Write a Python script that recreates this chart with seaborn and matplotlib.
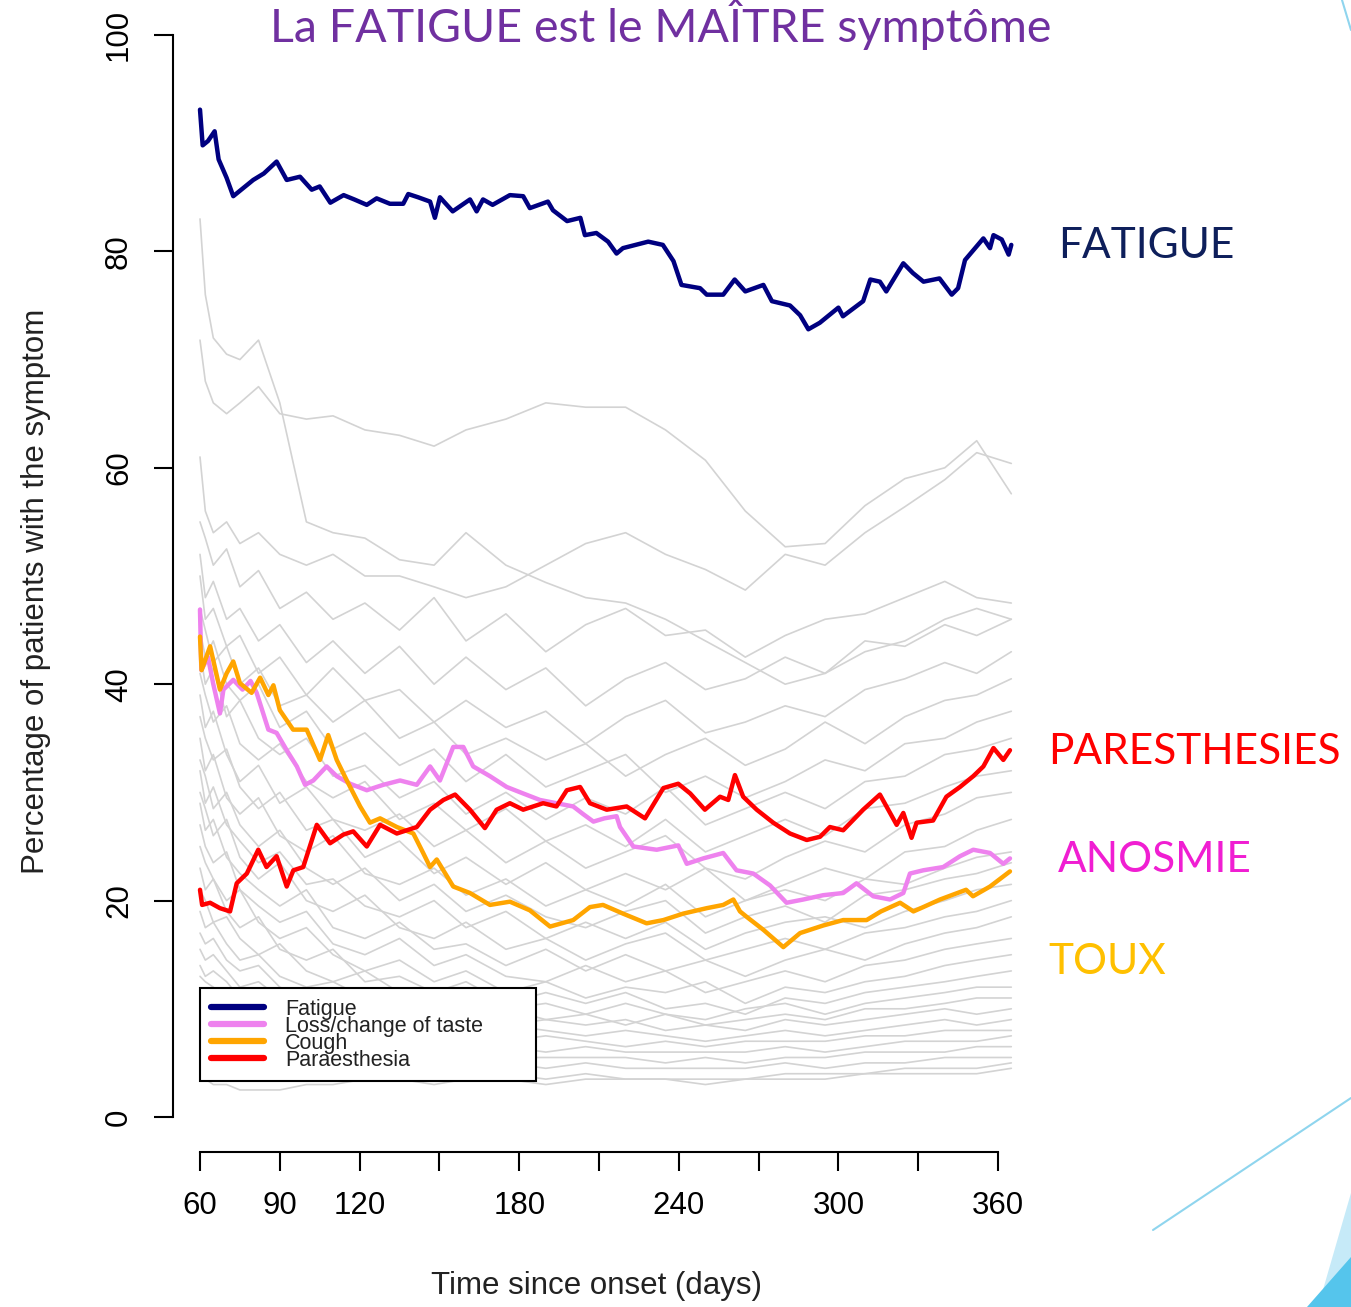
import matplotlib.pyplot as plt
import matplotlib.lines as mlines
import matplotlib.patches as mpatches
import pandas as pd
import seaborn as sns

W, H = 1351, 1307

# highlighted symptoms (days since onset, % of patients)
fatigue_days = [60, 61, 63, 65.5, 67, 70, 72.5, 76, 80, 84,
                88.8, 92.6, 97.6, 102, 105, 109, 114, 118, 122.7, 126.4,
                131.4, 136.4, 138.3, 142, 146.5, 148.3, 150.2, 155, 161.5, 164,
                166.4, 170, 176.5, 181.5, 184, 190.8, 192.7, 198, 203, 204.7,
                209, 213.4, 216.6, 219, 228.5, 234, 238, 241, 248, 250.5,
                256.7, 261, 265, 271.8, 275, 281.8, 285.6, 288.7, 293, 300,
                301.7, 309.3, 312, 315.6, 318, 324.4, 328, 332, 338, 342.6,
                345, 347.6, 354.5, 357, 358.3, 361.4, 364, 365]
fatigue_pct = [93.1, 89.8, 90.2, 91.1, 88.5, 86.8, 85.1, 85.8, 86.6, 87.2,
               88.3, 86.6, 86.9, 85.7, 86.0, 84.5, 85.2, 84.8, 84.3, 84.9,
               84.4, 84.4, 85.3, 85.0, 84.6, 83.1, 85.0, 83.7, 84.8, 83.7,
               84.8, 84.3, 85.2, 85.1, 84.0, 84.6, 83.8, 82.8, 83.1, 81.5,
               81.7, 80.9, 79.8, 80.3, 80.9, 80.6, 79.1, 76.9, 76.6, 76.0,
               76.0, 77.4, 76.3, 76.9, 75.4, 75.0, 74.1, 72.8, 73.4, 74.8,
               74.0, 75.4, 77.4, 77.2, 76.3, 78.9, 78.0, 77.2, 77.5, 76.0,
               76.6, 79.2, 81.2, 80.3, 81.5, 81.1, 79.7, 80.6]

taste_days = [60, 60.5, 63, 65, 67.5, 68.8, 72.5, 76, 79, 81.3,
              85.7, 88.8, 92.6, 96.4, 99.5, 102.6, 107.6, 111.4, 116.4, 122.7,
              128.9, 135.2, 141.5, 146.5, 150.2, 155.2, 159, 162.7, 169, 175.3,
              181.5, 187.8, 194, 200.3, 204, 207.9, 212, 216.6, 217.9, 222.9,
              231.7, 239.8, 243, 249.2, 256.7, 261.7, 268, 274.3, 280.5, 286.8,
              294.3, 301.8, 306.8, 313.1, 319.4, 324.4, 326.9, 331.9, 339.4, 345.7,
              350.7, 357, 362, 364.5]
taste_pct = [46.9, 41.3, 42.5, 40.0, 37.3, 39.5, 40.4, 39.5, 40.3, 39.2,
             35.8, 35.5, 33.9, 32.4, 30.7, 31.1, 32.4, 31.5, 30.8, 30.2,
             30.7, 31.1, 30.7, 32.4, 31.1, 34.2, 34.2, 32.4, 31.5, 30.5,
             29.9, 29.3, 29.0, 28.7, 28.0, 27.3, 27.6, 27.8, 26.8, 25.0,
             24.7, 25.1, 23.4, 23.9, 24.4, 22.8, 22.5, 21.4, 19.8, 20.1,
             20.5, 20.7, 21.6, 20.4, 20.1, 20.7, 22.5, 22.8, 23.1, 24.1,
             24.7, 24.4, 23.4, 23.9]

cough_days = [60, 60.6, 63.8, 67.5, 70, 72.5, 75, 79.4, 82.6, 85.7,
              87.6, 90, 95, 100.1, 105.1, 108.2, 111.4, 115.2, 120.2, 123.9,
              127.7, 134, 140.2, 143.9, 146.5, 149, 155.2, 161.5, 169, 176.5,
              184, 191.6, 200.3, 206.6, 211.5, 219, 227.9, 234.2, 241.7, 250.5,
              256.7, 260.5, 263, 265.5, 271.8, 279.3, 285.6, 294.3, 301.8, 310.6,
              316, 323.2, 328.2, 331.9, 338.2, 348, 350.6, 357, 364.5]
cough_pct = [44.4, 41.3, 43.5, 39.5, 41.0, 42.1, 40.1, 39.2, 40.6, 39.0,
             39.9, 37.6, 35.8, 35.8, 33.0, 35.3, 33.0, 31.1, 28.7, 27.2,
             27.6, 26.8, 26.2, 24.4, 23.1, 23.8, 21.3, 20.7, 19.6, 19.9,
             19.1, 17.6, 18.2, 19.4, 19.6, 18.8, 17.9, 18.2, 18.8, 19.3,
             19.6, 20.1, 19.0, 18.5, 17.3, 15.7, 17.0, 17.7, 18.2, 18.2,
             19.0, 19.8, 19.0, 19.4, 20.1, 21.0, 20.4, 21.3, 22.7]

paraes_days = [60, 60.8, 63.8, 67.5, 71.3, 73.8, 77.6, 81.9, 85, 88.8,
               92.6, 95.1, 98.8, 103.9, 108.9, 113.9, 117.6, 122.7, 127.7, 134,
               141.5, 146.5, 151.5, 155.9, 161.5, 167.1, 171.5, 176.5, 181.5, 189,
               194, 197.9, 202.9, 206.6, 212.9, 220.4, 227.3, 234.2, 239.8, 244.3,
               249.8, 255.5, 258.6, 261.1, 264.2, 269.3, 275.5, 281.8, 288.1, 293.1,
               296.8, 301.8, 309.3, 315.6, 321.9, 324.4, 327.5, 329.4, 335.6, 340.6,
               345.7, 350.7, 354.5, 358.3, 362, 364.5]
paraes_pct = [21.0, 19.6, 19.8, 19.3, 19.0, 21.6, 22.5, 24.7, 23.1, 24.1,
              21.3, 22.8, 23.1, 27.0, 25.3, 26.1, 26.4, 25.0, 27.0, 26.2,
              26.8, 28.4, 29.3, 29.8, 28.4, 26.7, 28.4, 29.0, 28.4, 29.0,
              28.7, 30.2, 30.5, 29.0, 28.4, 28.7, 27.6, 30.4, 30.8, 29.9,
              28.4, 29.6, 29.3, 31.6, 29.6, 28.4, 27.2, 26.2, 25.6, 25.9,
              26.8, 26.5, 28.4, 29.8, 27.0, 28.1, 25.8, 27.2, 27.4, 29.6,
              30.5, 31.5, 32.4, 34.1, 33.0, 33.9]

# the other symptoms, drawn in light grey
gray_days = [60, 62, 65, 70, 75, 82, 90, 100, 110, 122, 135, 148, 160, 175,
             190, 205, 220, 235, 250, 265, 280, 295, 310, 325, 340, 352, 365]
gray_pct = [
    [83, 76, 72, 70.5, 70, 71.8, 66, 55, 54, 53.5, 51.5, 51, 54, 51, 49.4, 48, 47.5, 46, 44, 42, 40, 41, 43, 44, 46, 47, 46],
    [71.8, 68, 66, 65, 66, 67.5, 65, 64.5, 64.8, 63.5, 63, 62, 63.5, 64.5, 66, 65.6, 65.6, 63.5, 60.7, 56, 52.7, 53, 56.5, 59, 60, 62.5, 57.6],
    [61, 56, 54, 55, 53, 54, 52, 51, 52, 50, 50, 49, 48, 49, 51, 53, 54, 52, 50.6, 48.7, 52, 51, 54, 56.4, 58.9, 61.4, 60.4],
    [55, 53.5, 51, 52.5, 49, 50.5, 47, 48.5, 46, 47.5, 45, 48, 44, 46.5, 43, 45.5, 47, 44.5, 45, 42.5, 44.5, 46, 46.5, 48, 49.5, 48, 47.5],
    [52, 48, 49.5, 46, 47, 44, 45.5, 42, 44, 41, 43.5, 40, 42.5, 39.5, 41.5, 38, 40.5, 42, 39.5, 40.5, 42.5, 41, 44, 43.5, 45.5, 44.5, 46],
    [50, 46, 47, 43.5, 44.5, 41, 42.5, 39, 41.5, 38.5, 39.5, 36.5, 38.5, 36, 37.5, 34.5, 37, 38.5, 35.5, 36.5, 38, 37, 39.5, 40.5, 42, 41, 43],
    [47, 45, 42, 43.5, 40, 41.5, 38, 39, 36.5, 38.5, 35, 36.5, 33.5, 35, 33, 34.5, 31.5, 33.5, 35, 32.5, 34, 36.5, 34.5, 37, 38.5, 39, 40.5],
    [45, 42.5, 44, 40, 38.5, 40, 36, 37.5, 34, 35.5, 32.5, 34, 31, 33.5, 30.5, 32, 33.5, 30, 31.5, 29.5, 31, 33, 32, 34.5, 35, 36.5, 37.5],
    [43, 40, 41.5, 37, 38.5, 35, 33.5, 35, 31.5, 32.5, 29.5, 31, 28, 30, 27.5, 29.5, 28, 30.5, 27, 28.5, 30, 28.5, 31, 31.5, 33.5, 34, 35],
    [41, 39, 36.5, 38, 34.5, 33, 34.5, 31, 29.5, 31, 27.5, 29, 26.5, 28.5, 25.5, 27, 25, 27.5, 24.5, 26, 27.5, 26, 28.5, 29, 30.5, 31.5, 32],
    [39, 36, 37.5, 33.5, 31, 32.5, 29, 30.5, 27.5, 26.5, 28, 25, 26.5, 23.5, 25.5, 23, 24.5, 26, 23, 22, 24, 25.5, 24.5, 27, 28, 29.5, 30],
    [37, 35, 33, 34, 30.5, 28.5, 30, 26.5, 27.5, 24, 25.5, 22.5, 24, 21.5, 23.5, 21, 22.5, 21, 23, 20, 21.5, 23, 22, 24.5, 25, 26.5, 27.5],
    [35, 32, 33.5, 29.5, 28, 29.5, 26, 24.5, 26, 22.5, 21.5, 23, 20.5, 22, 19.5, 21, 19.5, 21.5, 18.5, 20, 21, 20, 22, 21.5, 23, 24, 24.5],
    [33, 31.5, 28.5, 30, 27, 25, 26.5, 23, 21.5, 23, 20, 21.5, 19, 20.5, 18.5, 17.5, 19, 20, 17, 18.5, 19.5, 18, 20.5, 21, 22, 22.5, 23.5],
    [32, 29, 30.5, 27, 25.5, 23.5, 24.5, 21.5, 22, 19.5, 18.5, 20, 17.5, 19, 16.5, 18, 16.5, 18, 15.5, 17, 18, 18.5, 17.5, 19, 20, 21, 21.5],
    [30, 28.5, 26, 27.5, 24, 22, 23.5, 20, 19, 20.5, 17.5, 16.5, 18, 15.5, 16.5, 14.5, 16, 17, 14.5, 15.5, 16.5, 15.5, 17, 17.5, 18.5, 19, 20],
    [29, 26.5, 27.5, 24, 22.5, 21, 19.5, 21, 17.5, 16.5, 18, 15.5, 16, 14, 15.5, 13.5, 15, 13.5, 14.5, 13, 14.5, 15.5, 14.5, 16, 17, 17.5, 18.5],
    [27, 25, 23.5, 24.5, 21, 19.5, 18, 19, 16, 15, 16.5, 14, 15, 13, 12.5, 14, 12.5, 13.5, 11.5, 12.5, 13.5, 12.5, 14, 14.5, 15.5, 16, 16.5],
    [25, 23.5, 22, 20, 21, 18, 16.5, 17.5, 15, 13.5, 14.5, 12.5, 13.5, 11.5, 12.5, 11, 12, 11.5, 12.5, 10.5, 12, 11.5, 12.5, 13, 14, 14.5, 15],
    [23, 21, 22, 19, 17.5, 18.5, 15.5, 14.5, 15.5, 12.5, 13, 11.5, 12.5, 10.5, 11.5, 10.5, 11.5, 10, 10.5, 9.5, 11, 10.5, 11.5, 12, 12.5, 13, 13.5],
    [21, 20, 18, 18.5, 16.5, 15, 16, 13.5, 12.5, 13.5, 11.5, 10.5, 11.5, 10, 10.5, 9.5, 10.5, 9.5, 9, 10, 10.5, 9.5, 10.5, 11, 11.5, 12, 12],
    [19, 17.5, 18, 16, 14.5, 15, 13, 12, 12.5, 11, 10, 11, 9.5, 10, 9, 9.5, 8.5, 9.5, 8.5, 9, 9.5, 9, 10, 10, 10.5, 11, 11],
    [17, 16, 16.5, 14.5, 13.5, 14, 12, 11, 11.5, 10, 9.5, 10, 9, 8.5, 9, 8.5, 9, 8, 8.5, 8, 9, 8.5, 9, 9.5, 10, 9.5, 10],
    [15.5, 14.5, 15, 13.5, 12, 12.5, 11, 10.5, 10, 9.5, 8.5, 9, 8, 8.5, 8, 7.5, 8, 7.5, 7, 7.5, 8, 7.5, 8, 8.5, 9, 8.5, 9],
    [14, 13, 13.5, 12.5, 11, 11.5, 10, 9.5, 9, 8.5, 8, 8.5, 7.5, 7, 7.5, 7, 6.5, 7, 6.5, 7, 7, 7, 7.5, 7.5, 8, 8, 8],
    [13, 12.5, 12, 11, 10.5, 10, 9.5, 9, 8, 7.5, 7, 7.5, 6.5, 6.5, 6, 6.5, 6, 6, 6, 6, 6.5, 6, 6.5, 7, 7, 7, 7.5],
    [11.5, 11, 10.5, 10, 9.5, 9, 8.5, 8, 7.5, 7, 6.5, 6, 6, 5.5, 5.5, 5.5, 5.5, 5, 5.5, 5, 5.5, 5.5, 6, 6, 6, 6.5, 6.5],
    [10, 9.5, 9.5, 9, 8.5, 8, 7.5, 7, 6.5, 6, 5.5, 5.5, 5, 5, 4.5, 5, 4.5, 4.5, 4.5, 4.5, 5, 4.5, 5, 5, 5.5, 5.5, 5.5],
    [7, 6.5, 6.5, 6, 6, 5.5, 5, 5, 4.5, 4.5, 4.5, 4, 4, 4, 3.5, 4, 3.5, 3.5, 3.5, 3.5, 4, 4, 4, 4.5, 4.5, 4.5, 5],
    [4, 3.5, 3, 3, 2.5, 2.5, 2.5, 3, 3, 3.5, 3.5, 3, 3.5, 3.5, 3, 3.5, 3.5, 3.5, 3, 3.5, 3.5, 3.5, 4, 4, 4, 4, 4.5],
]

legend_labels = ["Fatigue", "Loss/change of taste", "Cough", "Paraesthesia"]
colors = ["#000080", "#ee82ee", "#ffa500", "#ff0000"]

sns.set_style("white")
plt.rcParams["font.family"] = ["Liberation Sans", "DejaVu Sans"]

fig = plt.figure(figsize=(W / 100, H / 100), dpi=100)
ax = fig.add_axes([173 / W, (H - 1152) / H, (1020 - 173) / W, (1152 - 30) / H])

rows = []
for i, series in enumerate(gray_pct):
    for d, v in zip(gray_days, series):
        rows.append({"symptom": i, "day": d, "pct": v})
gray_df = pd.DataFrame(rows)
sns.lineplot(data=gray_df, x="day", y="pct", units="symptom", estimator=None,
             color="#d3d3d3", lw=1.2, ax=ax, legend=False)

highlighted = [(fatigue_days, fatigue_pct), (taste_days, taste_pct),
               (cough_days, cough_pct), (paraes_days, paraes_pct)]
for (days, pct), c in zip(highlighted, colors):
    sns.lineplot(x=days, y=pct, estimator=None, color=c, lw=3.2, ax=ax)

ax.set_xlim(60 - 27 / 2.66, 60 + 820 / 2.66)
ax.set_ylim(-35 / 10.82, 100.46)

for s in ["top", "right"]:
    ax.spines[s].set_visible(False)
ax.spines["left"].set_bounds(0, 100)
ax.spines["bottom"].set_bounds(60, 360)
for s in ["left", "bottom"]:
    ax.spines[s].set_linewidth(1.5)
    ax.spines[s].set_color("black")

ax.set_xticks(range(60, 361, 30))
ax.set_xticklabels(["60", "90", "120", "", "180", "", "240", "", "300", "", "360"])
ax.set_yticks(range(0, 101, 20))
ax.tick_params(axis="both", direction="out", length=14, width=1.5, colors="black",
               labelsize=22.5, pad=14, bottom=True, left=True)
for lab in ax.get_yticklabels():
    lab.set_rotation(90)
    lab.set_va("center")

ax.set_xlabel("Time since onset (days)", fontsize=22.5, labelpad=36, color="#222222")
ax.set_ylabel("Percentage of patients with the symptom", fontsize=22.5, labelpad=38,
              color="#222222")

handles = [mlines.Line2D([], [], color=c, lw=4.5, solid_capstyle="round") for c in colors]
leg = ax.legend(handles, legend_labels, loc="upper left",
                bbox_to_anchor=(60, 11.92, 126.3, 0), bbox_transform=ax.transData,
                mode="expand", borderaxespad=0, frameon=True, fancybox=False,
                edgecolor="black", framealpha=1, fontsize=15.5, handlelength=2.45,
                handletextpad=1.0, labelspacing=-0.19, borderpad=0.5)
leg.get_frame().set_linewidth(1.5)
for t in leg.get_texts():
    t.set_color("#222222")

# slide decorations
fig.text(661 / W, 1 - 25 / H, "La FATIGUE est le MAÎTRE symptôme", ha="center",
         va="center", color="#7030a0", fontsize=33.5, family=["Lato", "DejaVu Sans"])
side = [("FATIGUE", 1058, 246, "#0e1f5b"), ("PARESTHESIES", 1048, 752, "#ff0000"),
        ("ANOSMIE", 1058, 860, "#f01ed2"), ("TOUX", 1048, 962, "#ffc000")]
for txt, x, y, c in side:
    fig.text(x / W, 1 - y / H, txt, ha="left", va="center", color=c, fontsize=30.5,
             family=["Lato", "DejaVu Sans"])

fig.add_artist(mlines.Line2D([1153 / W, 1351 / W], [1 - 1230 / H, 1 - 1098 / H],
                             color="#8fd5ee", lw=1.5, transform=fig.transFigure))
fig.add_artist(mlines.Line2D([1342 / W, 1351 / W], [1.0, 1 - 30 / H],
                             color="#8fd5ee", lw=1.5, transform=fig.transFigure))
fig.add_artist(mpatches.Polygon([(1351 / W, 1 - 1193 / H), (1318 / W, 0), (1351 / W, 0)],
                                closed=True, fc="#c6eaf8", ec="none",
                                transform=fig.transFigure))
fig.add_artist(mpatches.Polygon([(1307 / W, 0), (1351 / W, 1 - 1257 / H), (1351 / W, 0)],
                                closed=True, fc="#55c5ec", ec="none",
                                transform=fig.transFigure))

fig.savefig("out.png", dpi=100, facecolor="white")
